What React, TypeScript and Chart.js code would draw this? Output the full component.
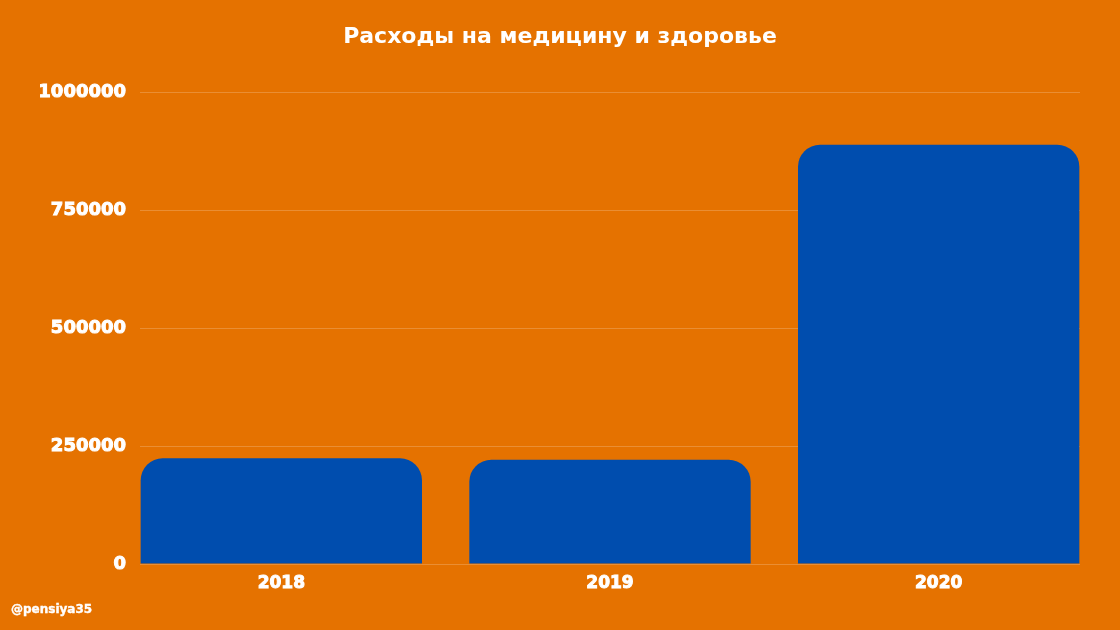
import { Chart, registerables } from "chart.js";
import { useEffect, useRef } from "react";

Chart.register(...registerables);

const years = ["2018", "2019", "2020"];
const spending = [224000, 221000, 889000];
const yTicks = [0, 250000, 500000, 750000, 1000000];

const FONT = "'DejaVu Sans', sans-serif";

const App = () => {
  const chartRef = useRef<HTMLCanvasElement>(null);

  useEffect(() => {
    const chart = new Chart(chartRef.current!, {
      type: "bar",
      data: {
        datasets: [
          {
            label: "Расходы",
            data: years.map((_, i) => ({ x: i, y: spending[i] })),
            backgroundColor: "#004DAE",
            borderRadius: 22,
            barPercentage: 0.856,
            categoryPercentage: 1,
          },
        ],
      },
      options: {
        animation: false,
        responsive: true,
        maintainAspectRatio: false,
        layout: { padding: { left: 40, right: 40, top: 0, bottom: 0 } },
        plugins: {
          legend: { display: false },
          tooltip: { enabled: false },
          title: {
            display: true,
            text: "Расходы на медицину и здоровье",
            color: "#ffffff",
            font: { family: FONT, size: 22, weight: "bold" },
            padding: { top: 24, bottom: 42 },
          },
        },
        scales: {
          x: {
            type: "linear",
            offset: false,
            min: -0.43,
            max: 2.43,
            grid: { display: false, drawTicks: false, offset: false },
            border: { display: false },
            afterBuildTicks: (scale) => {
              scale.ticks = years.map((_, i) => ({ value: i }));
            },
            afterFit: (scale) => {
              scale.height = 66;
            },
            ticks: {
              color: "#ffffff",
              textStrokeColor: "#ffffff",
              textStrokeWidth: 1,
              padding: 9,
              autoSkip: false,
              maxRotation: 0,
              font: { family: FONT, size: 17, weight: "bold" },
              callback: (value) => years[Number(value)] ?? "",
            },
          },
          y: {
            min: 0,
            max: 1000000,
            grid: {
              color: "rgba(255, 255, 255, 0.2)",
              drawTicks: false,
            },
            border: { display: false },
            afterBuildTicks: (scale) => {
              scale.ticks = yTicks.map((v) => ({ value: v }));
            },
            afterFit: (scale) => {
              scale.width = 100;
            },
            ticks: {
              color: "#ffffff",
              textStrokeColor: "#ffffff",
              textStrokeWidth: 1,
              padding: 14,
              font: { family: FONT, size: 18, weight: "bold" },
              callback: (value) => String(value),
            },
          },
        },
      },
    });

    return () => {
      chart.destroy();
    };
  }, []);

  return (
    <div
      style={{
        position: "fixed",
        left: 0,
        top: 0,
        width: 1120,
        height: 630,
        background: "#E57200",
      }}
    >
      <canvas ref={chartRef} />
      <div
        style={{
          position: "absolute",
          left: 11,
          top: 602,
          color: "#ffffff",
          fontFamily: FONT,
          fontWeight: "bold",
          fontSize: 12,
          WebkitTextStroke: "0.4px #ffffff",
        }}
      >
        @pensiya35
      </div>
    </div>
  );
};

export default App;
